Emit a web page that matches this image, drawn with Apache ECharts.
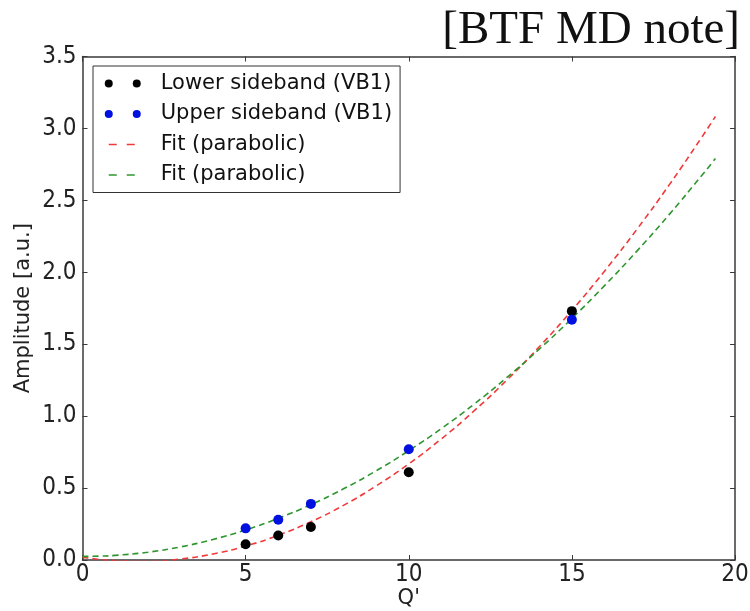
<!DOCTYPE html>
<html>
<head>
<meta charset="utf-8">
<script src="https://cdn.jsdelivr.net/npm/echarts@6/dist/echarts.min.js"></script>
<style>html,body{margin:0;padding:0;background:#fff}#c{width:750px;height:611px}</style>
</head>
<body>
<div id="c"></div>
<script>
// ---- data ----
const qPrime = [5, 6, 7, 10, 15];
const lowerSideband = [0.11, 0.17, 0.23, 0.61, 1.73];
const upperSideband = [0.22, 0.28, 0.39, 0.77, 1.67];
const fitX = [0, 0.5, 1, 2, 3, 4, 5, 6, 7, 8, 9, 10, 11, 12, 13, 14, 15, 16, 17, 18, 19, 19.4];
const fitRed = [0.020, 0.005, -0.004, -0.009, 0.007, 0.042, 0.097, 0.172, 0.266, 0.380, 0.515, 0.668, 0.842, 1.036, 1.249, 1.482, 1.735, 2.008, 2.301, 2.613, 2.945, 3.083];
const fitGreen = [0.025, 0.027, 0.032, 0.054, 0.091, 0.143, 0.209, 0.290, 0.385, 0.495, 0.620, 0.760, 0.914, 1.083, 1.267, 1.466, 1.679, 1.907, 2.149, 2.406, 2.678, 2.791];
const xTicks = [0, 5, 10, 15, 20];
const yTicks = [0, 0.5, 1.0, 1.5, 2.0, 2.5, 3.0, 3.5];
const names = ['Lower sideband (VB1)', 'Upper sideband (VB1)', 'Fit (parabolic)', 'Fit (parabolic) '];

const pairs = (xs, ys) => xs.map((x, i) => [x, ys[i]]);
const twoDots = 'path://M0,4a4,4 0 1,0 8,0a4,4 0 1,0 -8,0Z M28,4a4,4 0 1,0 8,0a4,4 0 1,0 -8,0Z';

const axisCol = '#3a3a3a';
const font = 'DejaVu Sans';
const tickFont = "'Liberation Sans Narrow', 'DejaVu Sans Condensed', 'DejaVu Sans'";
const chart = echarts.init(document.getElementById('c'), null, {renderer: 'canvas'});

const baseX = {
  type: 'value', min: xTicks[0], max: xTicks[xTicks.length - 1], interval: 5,
  splitLine: {show: false},
  axisLine: {show: true, onZero: false, lineStyle: {color: axisCol, width: 1.5}},
  axisTick: {show: true, inside: true, length: 5, lineStyle: {color: axisCol, width: 1}}
};
const baseY = {
  type: 'value', min: yTicks[0], max: yTicks[yTicks.length - 1], interval: 0.5,
  splitLine: {show: false},
  axisLine: {show: true, onZero: false, lineStyle: {color: axisCol, width: 1.5}},
  axisTick: {show: true, inside: true, length: 5, lineStyle: {color: axisCol, width: 1}}
};

chart.setOption({
  animation: false,
  backgroundColor: '#fff',
  title: {
    text: '[BTF MD note]', right: 5, top: 2,
    textStyle: {fontFamily: 'Liberation Serif', fontSize: 47, fontWeight: 'normal', color: '#111'}
  },
  grid: {left: 82.5, right: 15, top: 56.5, bottom: 51, containLabel: false, outerBoundsMode: 'none'},
  xAxis: [
    Object.assign({}, baseX, {
      position: 'bottom',
      name: "Q'", nameLocation: 'middle', nameGap: 28, nameMoveOverlap: false,
      nameTextStyle: {fontFamily: font, fontSize: 21, color: '#222'},
      axisLabel: {fontFamily: tickFont, fontSize: 24, color: '#222', margin: 3}
    }),
    Object.assign({}, baseX, {position: 'top', axisLabel: {show: false}})
  ],
  yAxis: [
    Object.assign({}, baseY, {
      position: 'left',
      name: 'Amplitude [a.u.]', nameLocation: 'middle', nameGap: 48, nameRotate: 90, nameMoveOverlap: false,
      nameTextStyle: {fontFamily: font, fontSize: 21, color: '#222'},
      axisLabel: {fontFamily: tickFont, fontSize: 24, color: '#222', margin: 6, formatter: v => v.toFixed(1)}
    }),
    Object.assign({}, baseY, {position: 'right', axisLabel: {show: false}})
  ],
  legend: {
    orient: 'vertical', left: 93, top: 66,
    backgroundColor: '#fff', borderColor: '#333', borderWidth: 1, borderRadius: 0,
    padding: [7, 8, 7, 11],
    itemWidth: 36, itemHeight: 9, itemGap: 9.5,
    textStyle: {fontFamily: font, fontSize: 21, color: '#111', lineHeight: 21, padding: [0, 0, 0, 15]},
    lineStyle: {type: [8, 10], dashOffset: 14, width: 1.5},
    data: [
      {name: names[0], icon: twoDots},
      {name: names[1], icon: twoDots},
      {name: names[2], itemStyle: {opacity: 0}, lineStyle: {type: [8, 10], dashOffset: 14, width: 1.5}},
      {name: names[3], itemStyle: {opacity: 0}, lineStyle: {type: [8, 10], dashOffset: 14, width: 1.5}}
    ]
  },
  series: [
    {
      name: names[2], type: 'line', smooth: true, symbol: 'none', showSymbol: false, z: 2,
      data: pairs(fitX, fitRed), clip: true,
      itemStyle: {color: '#f03a3a'},
      lineStyle: {color: '#f03a3a', width: 1.6, type: [6, 4]}
    },
    {
      name: names[3], type: 'line', smooth: true, symbol: 'none', showSymbol: false, z: 2,
      data: pairs(fitX, fitGreen), clip: true,
      itemStyle: {color: '#2f962f'},
      lineStyle: {color: '#2f962f', width: 1.6, type: [6, 4]}
    },
    {
      name: names[0], type: 'scatter', symbol: 'circle', symbolSize: 10, z: 5,
      data: pairs(qPrime, lowerSideband),
      itemStyle: {color: '#000', opacity: 1}
    },
    {
      name: names[1], type: 'scatter', symbol: 'circle', symbolSize: 10, z: 5,
      data: pairs(qPrime, upperSideband),
      itemStyle: {color: '#0010e0', opacity: 1}
    }
  ]
});
</script>
</body>
</html>
